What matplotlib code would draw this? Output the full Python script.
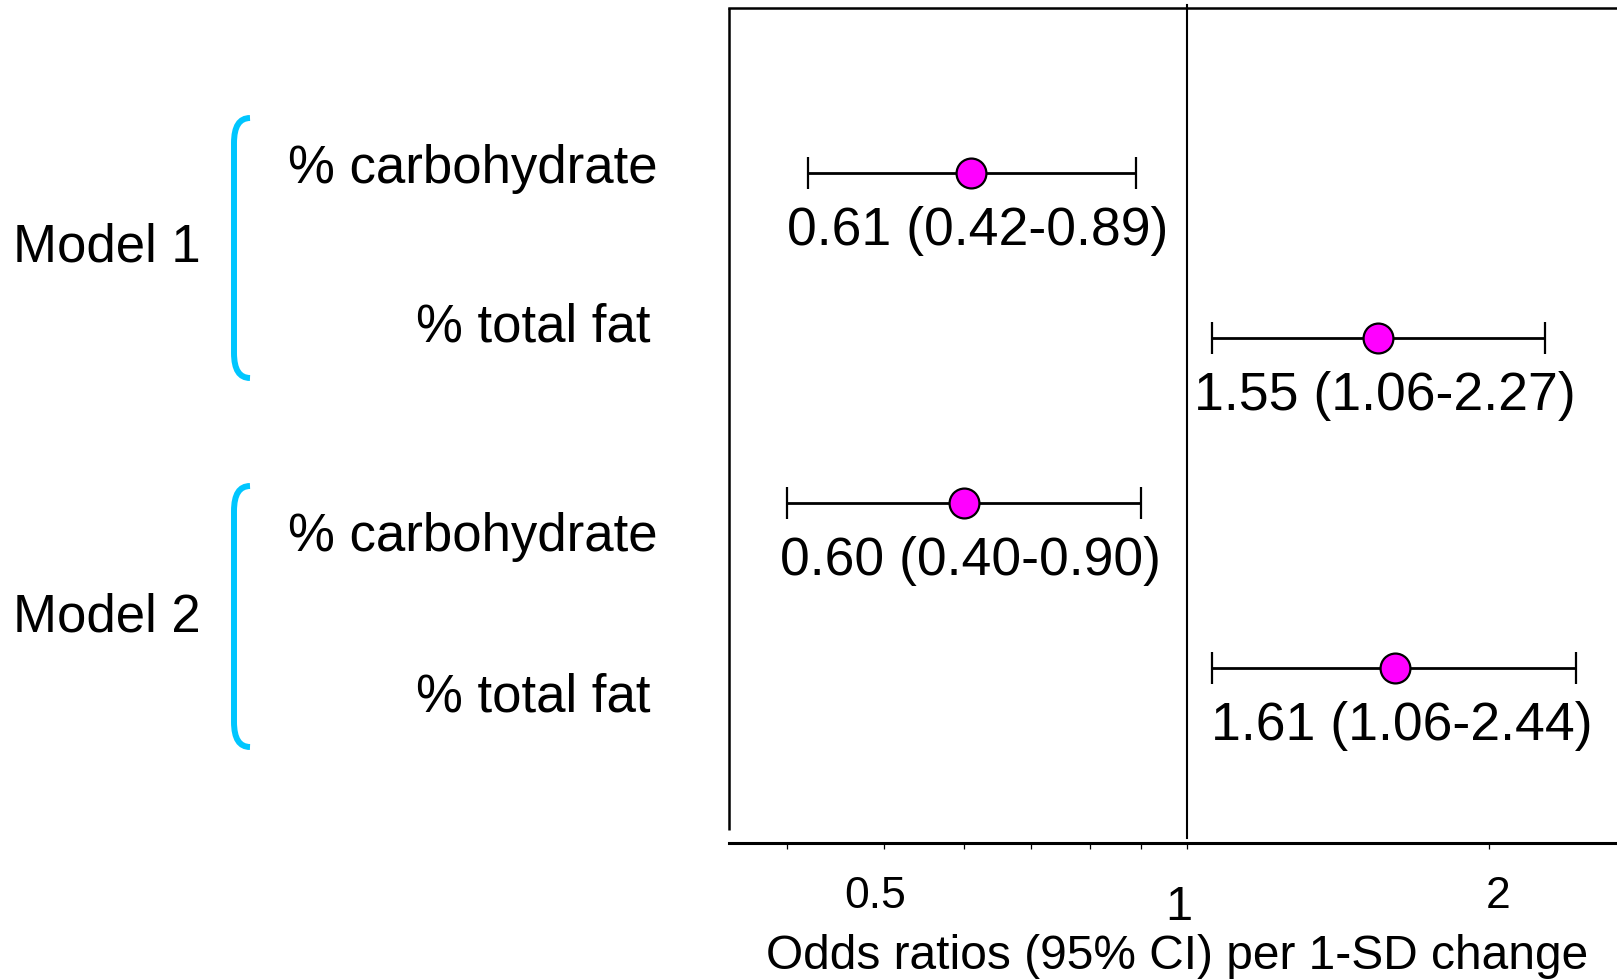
"""
Forest plot: odds ratios (95% CI) per 1-SD change, carbohydrate vs total fat,
two adjustment models. Log-scaled x axis, value labels under each point.
"""

import matplotlib
matplotlib.use("Agg")
import matplotlib.pyplot as plt
from matplotlib.path import Path
from matplotlib.patches import PathPatch
from matplotlib.ticker import NullFormatter
import matplotlib.transforms as mtransforms

plt.rcParams["font.family"] = ["Liberation Sans", "DejaVu Sans"]

# data
models = ["Model 1", "Model 2"]
exposures = ["% carbohydrate", "% total fat", "% carbohydrate", "% total fat"]
odds_ratio = [0.61, 1.55, 0.60, 1.61]
ci_low = [0.42, 1.06, 0.40, 1.06]
ci_high = [0.89, 2.27, 0.90, 2.44]
major_ticks = [0.5, 1, 2]
major_labels = ["0.5", "1", "2"]
minor_ticks = [0.4, 0.6, 0.7, 0.8, 0.9]
xlabel = "Odds ratios (95% CI) per 1-SD change"

W, H = 1617, 980
MAGENTA = "#FF00FF"
CYAN = "#00C6FF"


def px(x, y):
    """pixel position (from top-left) -> figure fraction"""
    return x / W, 1 - y / H


fig = plt.figure(figsize=(W / 100, H / 100), dpi=100)
ax = fig.add_axes([729 / W, 1 - 843 / H, (W - 729) / W, (843 - 8) / H])

rows = list(range(len(odds_ratio)))
xerr = [[o - lo for o, lo in zip(odds_ratio, ci_low)],
        [hi - o for o, hi in zip(odds_ratio, ci_high)]]

ax.errorbar(odds_ratio, rows, xerr=xerr, fmt="o", color="black",
            ecolor="black", elinewidth=2.0, capsize=11.5, capthick=2.0,
            markersize=21.5, markerfacecolor=MAGENTA, markeredgecolor="black",
            markeredgewidth=1.6, zorder=3)

for o, lo, hi, r in zip(odds_ratio, ci_low, ci_high, rows):
    ax.annotate(f"{o:.2f} ({lo:.2f}-{hi:.2f})", xy=(o, r), xytext=(5, -52),
                textcoords="offset points", ha="center", va="baseline",
                fontsize=38.5)

ax.set_xscale("log")
ax.set_xlim(0.3502, 2.679)
ax.set_ylim(4.06, -1.0)

# reference line at OR = 1
ax.plot([1, 1], [-1.02, 4.03], color="black", lw=1.5, clip_on=False)

# frame: top + left drawn, bottom is the axis, no right side
ax.spines["right"].set_visible(False)
ax.spines["left"].set_visible(False)
ax.spines["top"].set_linewidth(1.8)
ax.spines["bottom"].set_linewidth(2.2)
ax.plot([0.3502, 0.3502], [-1.0, 3.98], color="black", lw=1.8, clip_on=False,
        solid_capstyle="butt")

ax.set_yticks([])
ax.set_xticks(major_ticks)
ax.set_xticklabels([])
ax.set_xticks(minor_ticks, minor=True)
ax.xaxis.set_minor_formatter(NullFormatter())
ax.tick_params(axis="x", which="both", direction="out", length=4.3, width=0.9,
               top=False)

# tick labels, "1" drawn larger as in the original
trans = mtransforms.blended_transform_factory(ax.transData, fig.transFigure)
nudge = {"0.5": -7, "1": -6, "2": 6}  # points, labels sit a bit off the ticks
for t, lab in zip(major_ticks, major_labels):
    size = 35 if lab == "1" else 32
    base = 920 if lab == "1" else 908
    ax.annotate(lab, xy=(t, 1 - base / H), xycoords=trans,
                xytext=(nudge[lab], 0), textcoords="offset points",
                ha="center", va="baseline", fontsize=size)

fig.text(*px(1177, 969), xlabel, ha="center", va="baseline", fontsize=34.5)

# row labels on the left
label_baselines = [183, 342, 551, 711]
label_right = [658, 650, 658, 650]
for name, xr, yb in zip(exposures, label_right, label_baselines):
    fig.text(*px(xr, yb), name, ha="right", va="baseline", fontsize=38)

model_baselines = [262, 631]
for name, yb in zip(models, model_baselines):
    fig.text(*px(13, yb), name, ha="left", va="baseline", fontsize=38)

# cyan brackets
bracket_spans = [(118, 378), (486, 747)]
for top, bot in bracket_spans:
    verts = [px(250, top), px(234, top), px(234, top + 25),
             px(234, bot - 25), px(234, bot), px(250, bot)]
    codes = [Path.MOVETO, Path.CURVE3, Path.CURVE3,
             Path.LINETO, Path.CURVE3, Path.CURVE3]
    fig.patches.append(PathPatch(Path(verts, codes), transform=fig.transFigure,
                                 fill=False, edgecolor=CYAN, lw=4.3,
                                 capstyle="butt"))

fig.savefig("out.png", dpi=100)
